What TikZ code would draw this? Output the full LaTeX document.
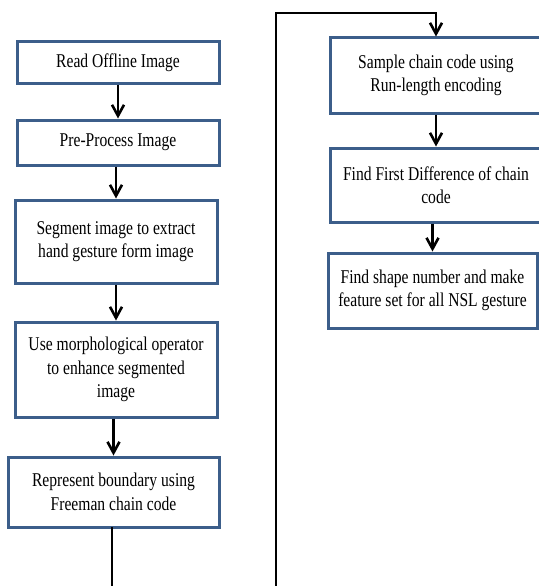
\documentclass[tikz,border=0pt]{standalone}
\usepackage{fontspec}
\setmainfont[FakeStretch=0.8]{Liberation Serif}
\usetikzlibrary{arrows.meta}
\definecolor{boxblue}{RGB}{60,94,138}
\tikzset{
  stepbox/.style={draw=boxblue, line width=3pt, fill=white, inner sep=0pt,
    align=center, font=\fontsize{19.5}{23.5}\selectfont, text=black},
  conn/.style={line width=2.2pt, draw=black},
  arr/.style={conn, -{Straight Barb[length=11pt,width=12pt,line width=2.6pt]}}
}
\begin{document}
\begin{tikzpicture}[x=1pt,y=-1pt]
\useasboundingbox (0,0) rectangle (538,586);
\fill[white] (0,0) rectangle (538,586);
% left column
\node[stepbox, minimum width=202pt, minimum height=41pt] (b1) at (118,62.5) {Read Offline Image};
\node[stepbox, minimum width=202pt, minimum height=45pt] (b2) at (118,142.5) {Pre-Process Image};
\node[stepbox, minimum width=202pt, minimum height=83pt] (b3) at (116,241.5) {Segment image to extract\\hand gesture form image};
\node[stepbox, minimum width=202pt, minimum height=95pt] (b4) at (116,369.5) {Use morphological operator\\to enhance segmented\\image};
\node[stepbox, minimum width=211pt, minimum height=70pt] (b5) at (113.5,492) {Represent boundary using\\Freeman chain code};
% right column
\node[stepbox, minimum width=212pt, minimum height=75pt] (b6) at (436,75.5) {Sample chain code using\\Run-length encoding};
\node[stepbox, minimum width=212pt, minimum height=74pt] (b7) at (436,185) {Find First Difference of chain\\code};
\node[stepbox, minimum width=209pt, minimum height=75pt] (b8) at (432.5,290.5) {Find shape number and make\\feature set for all NSL gesture};
% connectors
\draw[arr] (b1.south) -- (b2.north);
\draw[arr] (b3.north |- b2.south) -- (b3.north);
\draw[arr] (b3.south) -- (b4.north);
\draw[arr] (b5.north |- b4.south) -- (b5.north);
\coordinate (lb) at (112,600);
\coordinate (rb) at (276,600);
\coordinate (rt) at (276,13);
\draw[arr] (112,527) -- (lb) -- (rb) -- (rt) -- (rt -| b6.north) -- (b6.north);
\draw[arr] (b6.south) -- (b7.north);
\draw[arr] (b8.north |- b7.south) -- (b8.north);
\end{tikzpicture}
\end{document}
